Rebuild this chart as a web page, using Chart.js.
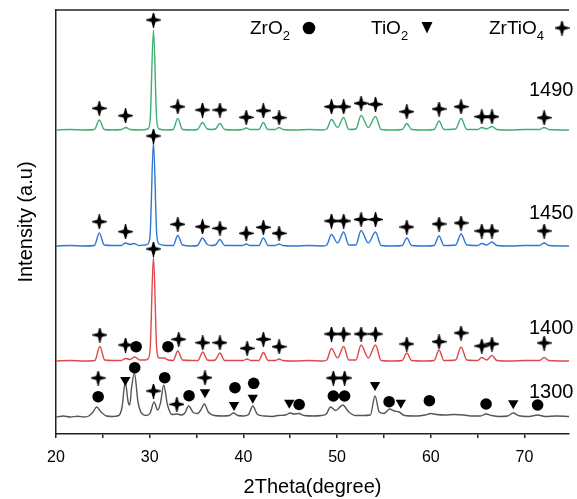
<!DOCTYPE html>
<html lang="en">
<head>
    <meta charset="UTF-8">
    <title>XRD patterns</title>
    <script src="https://cdn.jsdelivr.net/npm/chart.js"></script>
    <style>
        body {
            margin: 0;
            background-color: #fff;
        }
        canvas {
            display: block;
        }
    </style>
</head>
<body>
    <canvas id="xrdChart" width="577" height="499"></canvas>
    <script>
        // intensity above each pattern's own baseline, [2theta, counts]
        const pattern1300 = [[20,0],[20.8,1],[21.5,0],[22.3,0.8],[23,0],[23.5,1],[23.95,5],[24.34,10],[24.8,5],[25.4,1],[26.0,0.5],[26.7,1.5],[27.05,10],[27.39,35],[27.7,15],[27.87,12],[28.05,28],[28.37,44],[28.75,15],[29.2,3],[29.7,1.5],[30.05,4],[30.47,15],[30.85,7],[31.15,14],[31.5,32],[31.9,12],[32.4,2.5],[32.9,3],[33.4,2],[33.75,4],[34.16,11],[34.65,4.5],[35.1,3.5],[35.45,7],[35.84,13],[36.25,5],[36.9,1.5],[37.8,1],[38.5,1.5],[38.95,4],[39.4,1.5],[40.0,1],[40.55,2.5],[41.0,11],[41.5,2.5],[42.2,1],[43.0,0.5],[43.7,1.5],[44.5,2],[45.0,4],[45.4,3],[45.9,3.5],[46.5,1.5],[47.5,1],[48.3,1.5],[48.85,3],[49.3,10],[49.85,6.5],[50.6,12],[51.25,5],[52.0,1.5],[52.8,1.5],[53.55,2],[54.05,21],[54.5,5],[55.0,3.5],[55.6,8],[56.1,6],[56.6,5],[57.2,1.5],[58.5,1],[59.4,2],[60.0,3.5],[60.6,2.5],[61.5,2],[62.5,2.5],[63.5,2],[64.5,1],[65.3,1],[65.9,3],[66.5,1.5],[67.3,0.5],[68.2,1],[68.8,4],[69.35,1.5],[70.5,0.5],[71.4,2],[72.2,0.5],[73.4,1],[74.75,0.5]];
        const pattern1400 = [[20,0],[21.5,0.5],[23,0],[24.15,0.5],[24.68,14.5],[25.2,1],[26,0.5],[26.95,0.5],[27.42,2.5],[27.9,1.5],[28.4,4],[28.95,1],[29.5,1],[29.8,2],[30.05,12],[30.4,104],[30.75,12],[31.0,3],[31.5,3],[32.0,1],[32.5,0.5],[33.0,10],[33.5,1],[34.5,0.5],[35.15,0.5],[35.66,9],[36.15,1],[36.6,0.5],[37.0,1],[37.49,8],[38.0,0.5],[39,0.5],[39.95,0.5],[40.4,2],[40.8,0.5],[41.65,0.5],[42.13,8.5],[42.65,0.5],[43.4,0.5],[43.81,2],[44.2,0.5],[45.5,0],[47,0.5],[48.5,0],[48.9,1],[49.4,12.5],[50.05,3],[50.7,14.5],[51.25,1],[52.0,1],[52.56,16],[53.33,3],[54.1,16],[54.7,0.5],[56,0],[56.95,0.5],[57.44,8],[57.95,0.5],[59.5,0],[60.35,0.5],[60.88,11],[61.4,0.5],[62.65,1],[63.23,14],[63.85,1],[65.0,0.5],[65.44,3.5],[65.95,1],[66.53,5.5],[67.05,0.5],[68.5,0],[70,0.5],[71.6,0.5],[72.1,3.5],[72.6,0.5],[74.75,0]];
        const pattern1450 = [[20,0],[21.5,0.5],[23,0],[24.1,0.5],[24.62,13],[25.15,1],[26,0.5],[26.95,0.5],[27.42,3],[27.9,1.5],[28.3,2.5],[28.85,0.5],[29.5,1],[29.8,2],[30.05,12],[30.4,104],[30.75,12],[31.0,2],[31.8,0.5],[32.5,0.5],[33.0,10.5],[33.5,1],[34.5,0],[35.1,0.5],[35.63,8],[36.15,1.5],[36.6,0.5],[37.0,1],[37.49,6.5],[38.0,0.5],[39,0.5],[39.9,0.5],[40.3,2],[40.7,0.5],[41.65,0.5],[42.13,8],[42.65,0.5],[43.4,0.5],[43.81,2],[44.2,0.5],[45.5,0],[47,0.5],[48.5,0],[48.9,1],[49.4,11.5],[50.05,3],[50.7,14],[51.25,1],[52.0,1],[52.56,15.5],[53.33,3],[54.1,14],[54.7,0.5],[56,0],[56.95,0.5],[57.44,8],[57.95,0.5],[59.5,0],[60.35,0.5],[60.88,10],[61.4,0.5],[62.65,1],[63.23,12],[63.85,1],[65.0,0.5],[65.44,2.5],[65.95,1],[66.53,4],[67.05,0.5],[68.5,0],[70,0.5],[71.6,0.5],[72.1,3],[72.6,0.5],[74.75,0]];
        const pattern1490 = [[20,0],[21.5,0.5],[23,0],[24.1,0.5],[24.62,10],[25.15,0.5],[26,0],[27.0,0.5],[27.45,2.5],[27.9,0.5],[29,0],[29.8,1],[30.05,10],[30.4,100],[30.75,10],[31.0,1],[31.8,0],[32.5,0.5],[33.0,11.5],[33.5,0.5],[34.5,0],[35.1,0.5],[35.63,7.5],[36.15,1],[36.6,0.5],[37.0,1],[37.49,6.5],[38.0,0.5],[39,0],[39.9,0.5],[40.3,2],[40.7,0.5],[41.65,0.5],[42.13,7.5],[42.6,0.5],[43.4,0.5],[43.81,2.5],[44.2,0.5],[45.5,0],[47,0.5],[48.5,0],[48.9,1],[49.4,10.5],[50.05,2.5],[50.7,12.5],[51.25,0.5],[52.0,1],[52.56,14.5],[53.33,2.5],[54.1,13.5],[54.7,0.5],[56,0],[56.95,0.5],[57.44,6.5],[57.95,0.5],[59.5,0],[60.35,0.5],[60.88,9],[61.4,0.5],[62.65,1],[63.23,11.5],[63.85,0.5],[65.0,0.5],[65.44,2.5],[65.95,1],[66.53,3.5],[67.05,0.5],[68.5,0],[70,0.5],[71.6,0.5],[72.1,2.5],[72.6,0.5],[74.75,0]];

        const temps = ['1300', '1400', '1450', '1490'];
        const offsets = [17, 73, 188, 304];
        const colors = ['#555555', '#e0474c', '#2f77d0', '#3fae72'];
        const labelY = [42, 106, 221, 344];

        // phase markers, absolute positions on the stacked plot
        const zrtio4Marks = [
            [30.4,414],[24.62,325.7],[27.42,318.3],[33.0,327.3],[35.63,324],[37.49,324],[40.3,316.7],[42.13,323.3],[43.81,316.3],[49.4,327.3],[50.7,327.3],[52.56,330.7],[54.1,329.7],[57.44,322.3],[60.88,325],[63.23,327.3],[65.44,317.3],[66.53,317.3],[72.1,316.3],
            [30.4,298],[24.62,212.3],[27.42,202.3],[33.0,209.7],[35.63,207.3],[37.49,205.7],[40.3,200.7],[42.13,206.7],[43.81,200.7],[49.4,213],[50.7,213],[52.56,214.5],[54.1,214.5],[57.44,207],[60.88,210],[63.23,211],[65.44,203],[66.53,203],[72.1,203],
            [30.4,185],[24.68,99],[27.42,89],[33.1,94.7],[35.66,91.3],[37.49,91.3],[40.4,85.7],[42.13,94.7],[43.81,87.3],[49.4,100],[50.7,100],[52.56,100],[54.1,100],[57.44,90],[60.88,92.3],[63.23,101],[65.44,88],[66.53,90],[72.1,91],
            [24.5,56],[30.4,43],[32.9,29.7],[35.9,56.3],[49.6,56],[50.8,56]
        ];
        const zro2Marks = [
            [28.55,87.3],[31.95,87.3],
            [24.5,37.3],[28.4,66.3],[31.6,56.3],[34.2,38.3],[39.1,46.3],[41.1,50.7],[45.95,29.5],[49.6,38],[50.8,38],[55.55,32.3],[59.85,33.3],[65.9,30],[71.4,29]
        ];
        const tio2Marks = [[27.4,54],[35.9,41.7],[39.0,29],[41.0,36.3],[44.9,31.3],[54.05,49],[56.8,31.3],[68.8,30.7]];

        const xTicks = [20, 25, 30, 35, 40, 45, 50, 55, 60, 65, 70];

        const FONT = "'Liberation Sans', Arial, sans-serif";

        // bold plus with pointed arms, the ZrTiO4 symbol
        function makeCross(size) {
            const c = document.createElement('canvas');
            c.width = size;
            c.height = size;
            const g = c.getContext('2d');
            const m = size / 2, L = size / 2, hw = 2, ht = 0.5;
            const pts = [
                [-ht, -L], [ht, -L], [hw, -hw], [L, -ht], [L, ht], [hw, hw],
                [ht, L], [-ht, L], [-hw, hw], [-L, ht], [-L, -ht], [-hw, -hw]
            ];
            g.fillStyle = '#000';
            g.beginPath();
            pts.forEach(p => g.lineTo(m + p[0], m + p[1]));
            g.closePath();
            g.fill();
            return c;
        }
        const star = makeCross(15);

        const toPoints = (arr, off) => arr.map(p => ({ x: p[0], y: p[1] + (off || 0) }));

        const datasets = [
            {
                data: toPoints(zrtio4Marks), showLine: false,
                pointStyle: star, pointRadius: 7, order: 0
            },
            {
                data: toPoints(zro2Marks), showLine: false,
                pointStyle: 'circle', pointRadius: 5.8, backgroundColor: '#000', borderWidth: 0, order: 0
            },
            {
                data: toPoints(tio2Marks), showLine: false,
                pointStyle: 'triangle', pointRotation: 180, pointRadius: 6, backgroundColor: '#000', borderWidth: 0, order: 0
            }
        ];
        [pattern1300, pattern1400, pattern1450, pattern1490].forEach((p, i) => {
            datasets.push({
                data: toPoints(p, offsets[i]),
                borderColor: colors[i],
                borderWidth: 1.4,
                pointRadius: 0,
                cubicInterpolationMode: 'monotone',
                order: 1
            });
        });

        const decorations = {
            id: 'decorations',
            afterDraw(chart) {
                const ctx = chart.ctx;
                const area = chart.chartArea;
                const ys = chart.scales.y;
                ctx.save();
                // top frame line
                ctx.strokeStyle = '#222';
                ctx.lineWidth = 1.5;
                ctx.beginPath();
                ctx.moveTo(area.left, area.top);
                ctx.lineTo(area.right, area.top);
                ctx.stroke();

                // temperature labels
                ctx.fillStyle = '#000';
                ctx.font = '20px ' + FONT;
                ctx.textBaseline = 'middle';
                ctx.textAlign = 'left';
                temps.forEach((t, i) => ctx.fillText(t, 529, ys.getPixelForValue(labelY[i])));

                // legend
                const legend = [['ZrO', '2', 250, 'circle', 309], ['TiO', '2', 371, 'triangle', 427], ['ZrTiO', '4', 489, 'star', 562]];
                legend.forEach(item => {
                    const y = 29;
                    ctx.font = '19px ' + FONT;
                    ctx.textBaseline = 'middle';
                    ctx.fillText(item[0], item[2], y);
                    const w = ctx.measureText(item[0]).width;
                    ctx.font = '13px ' + FONT;
                    ctx.fillText(item[1], item[2] + w, y + 7);
                    const mx = item[4];
                    if (item[3] === 'circle') {
                        ctx.beginPath();
                        ctx.arc(mx, y - 1, 6.3, 0, Math.PI * 2);
                        ctx.fill();
                    } else if (item[3] === 'triangle') {
                        ctx.beginPath();
                        ctx.moveTo(mx - 5.5, y - 7);
                        ctx.lineTo(mx + 5.5, y - 7);
                        ctx.lineTo(mx, y + 4.5);
                        ctx.closePath();
                        ctx.fill();
                    } else {
                        ctx.drawImage(star, mx - 7.5, y - 8.5);
                    }
                });
                ctx.restore();
            }
        };

        new Chart(document.getElementById('xrdChart'), {
            type: 'line',
            data: { datasets: datasets },
            options: {
                responsive: false,
                animation: false,
                layout: { padding: { top: 10, right: 0, left: 0, bottom: 0 } },
                plugins: {
                    legend: { display: false },
                    tooltip: { enabled: false }
                },
                scales: {
                    x: {
                        type: 'linear',
                        min: 20,
                        max: 74.75,
                        afterBuildTicks: scale => { scale.ticks = xTicks.map(v => ({ value: v })); },
                        afterFit: scale => { scale.height = 65; },
                        ticks: {
                            autoSkip: false,
                            maxRotation: 0,
                            padding: 10,
                            color: '#000',
                            font: { family: FONT, size: 16 },
                            callback: v => (v % 10 === 0 ? v : '')
                        },
                        grid: {
                            drawOnChartArea: false,
                            drawTicks: true,
                            tickLength: 4,
                            color: '#222',
                            lineWidth: 1.5
                        },
                        border: { display: true, color: '#222', width: 1.5 },
                        title: {
                            display: true,
                            text: '2Theta(degree)',
                            color: '#000',
                            font: { family: FONT, size: 20 },
                            padding: 0
                        }
                    },
                    y: {
                        min: 0,
                        max: 424,
                        afterFit: scale => { scale.width = 56; },
                        ticks: { display: false },
                        grid: { display: false },
                        border: { display: true, color: '#222', width: 1.5 },
                        title: {
                            display: true,
                            text: 'Intensity (a.u)',
                            color: '#000',
                            font: { family: FONT, size: 20 },
                            padding: { top: 14, bottom: 0 }
                        }
                    }
                }
            },
            plugins: [decorations]
        });
    </script>
</body>
</html>
